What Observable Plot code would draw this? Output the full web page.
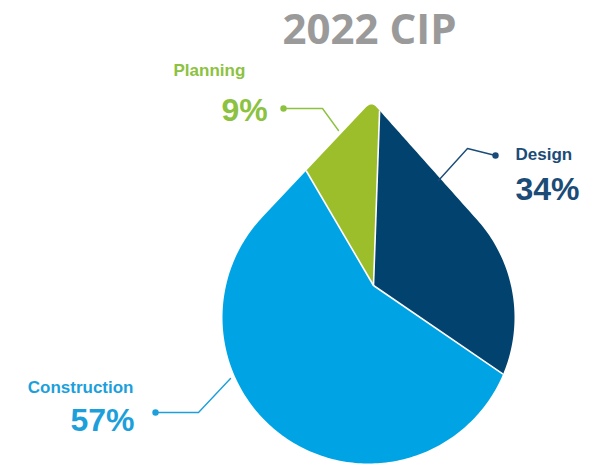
<!DOCTYPE html>
<html><head><meta charset="utf-8">
<script src="https://cdn.jsdelivr.net/npm/d3@7"></script>
<script src="https://cdn.jsdelivr.net/npm/@observablehq/plot@0.6"></script>
<style>html,body{margin:0;padding:0;background:#fff;} svg{display:block}</style>
</head><body><div id="chart"></div>
<script>
// ---- data ----
const categories = ["Design", "Construction", "Planning"];
const shares = [34, 57, 9];
const shareLabels = ["34%", "57%", "9%"];
const title = "2022 CIP";

// ---- styles ----
const sliceColors = ["#02426E", "#00A4E4", "#9CBE2B"];
const textColors = ["#1B4B77", "#1C9FDB", "#8CC23F"];

// ---- layout (pixels) ----
const W = 592, H = 466;
const center = [373, 285];          // where the slices meet
const bulb = {cx: 368, cy: 317, r: 146};
const tip = [371, 101];
const startDeg = 2;
const labelLayout = {
  Design:       {nameX: 515, nameY: 159, pctX: 515, pctY: 199, anchor: "start", pctAnchor: "start",
                 leader: [[495, 155], [467, 148], [438, 180]]},
  Construction: {nameX: 133, nameY: 392, pctX: 134, pctY: 430, anchor: "end", pctAnchor: "end",
                 leader: [[155, 412], [198, 412], [230, 378]]},
  Planning:     {nameX: 173, nameY: 75, pctX: 221, pctY: 120, anchor: "start", pctAnchor: "start",
                 leader: [[283, 108], [322, 108], [338, 130]]}
};

// ---- drop outline ----
function buildOutline() {
  const [tx, ty] = tip;
  const dx = tx - bulb.cx, dy = ty - bulb.cy, d = Math.hypot(dx, dy);
  const phi = Math.atan2(dy, dx), alpha = Math.acos(bulb.r / d);
  const aR = phi + alpha, aL = phi - alpha + 2 * Math.PI;
  const pR = [bulb.cx + bulb.r * Math.cos(aR), bulb.cy + bulb.r * Math.sin(aR)];
  const pL = [bulb.cx + bulb.r * Math.cos(aL), bulb.cy + bulb.r * Math.sin(aL)];
  const unit = p => { const vx = p[0] - tx, vy = p[1] - ty, l = Math.hypot(vx, vy); return [vx / l, vy / l]; };
  const uL = unit(pL), uR = unit(pR), s = 8;
  const B = [tx + s * uL[0], ty + s * uL[1]], A = [tx + s * uR[0], ty + s * uR[1]];
  const pts = [];
  for (let i = 0; i <= 12; i++) { const t = i / 12, m = 1 - t;
    pts.push([m * m * B[0] + 2 * m * t * tx + t * t * A[0], m * m * B[1] + 2 * m * t * ty + t * t * A[1]]); }
  for (let i = 1; i <= 40; i++) { const t = i / 40; pts.push([A[0] + (pR[0] - A[0]) * t, A[1] + (pR[1] - A[1]) * t]); }
  for (let i = 1; i <= 240; i++) { const a = aR + (aL - aR) * i / 240; pts.push([bulb.cx + bulb.r * Math.cos(a), bulb.cy + bulb.r * Math.sin(a)]); }
  for (let i = 1; i < 40; i++) { const t = i / 40; pts.push([pL[0] + (B[0] - pL[0]) * t, pL[1] + (B[1] - pL[1]) * t]); }
  return pts;
}
const outline = buildOutline();

function ang(p) {
  let a = Math.atan2(p[0] - center[0], -(p[1] - center[1])) * 180 / Math.PI;
  while (a < startDeg) a += 360;
  while (a >= startDeg + 360) a -= 360;
  return a;
}
function hit(deg) {
  const r = deg * Math.PI / 180, ux = Math.sin(r), uy = -Math.cos(r);
  let best = null;
  for (let i = 0; i < outline.length; i++) {
    const p = outline[i], q = outline[(i + 1) % outline.length];
    const ex = q[0] - p[0], ey = q[1] - p[1];
    const den = ux * ey - uy * ex; if (Math.abs(den) < 1e-12) continue;
    const wx = p[0] - center[0], wy = p[1] - center[1];
    const t = (wx * ey - wy * ex) / den, u = (wx * uy - wy * ux) / den;
    if (t > 0 && u >= -1e-9 && u <= 1 + 1e-9 && (best === null || t < best)) best = t;
  }
  return [center[0] + best * ux, center[1] + best * uy];
}

// ---- slices from shares ----
const total = d3.sum(shares);
let acc = startDeg;
const sliceRows = [], boundaryAngles = [];
categories.forEach((c, i) => {
  const a0 = acc, a1 = acc + shares[i] / total * 360; acc = a1;
  boundaryAngles.push(a0);
  const inner = outline.map(p => [p, ang(p)]).filter(d => d[1] > a0 && d[1] < a1)
    .sort((a, b) => a[1] - b[1]).map(d => d[0]);
  const pts = [center, hit(a0), ...inner, hit(a1), center];
  pts.forEach((p, j) => sliceRows.push({category: c, x: p[0], y: p[1], k: j}));
});
const separators = boundaryAngles.map(a => { const h = hit(a); return {x1: center[0], y1: center[1], x2: h[0], y2: h[1]}; });

// ---- labels ----
const leaderRows = [], dotRows = [];
categories.forEach((c, i) => {
  const L = labelLayout[c];
  L.leader.forEach((p, j) => leaderRows.push({category: c, x: p[0], y: p[1], k: j}));
  dotRows.push({category: c, x: L.leader[0][0], y: L.leader[0][1]});
});

const font = "'Liberation Sans', Arial, sans-serif";
const textMarks = [];
categories.forEach((c, i) => {
  const L = labelLayout[c];
  textMarks.push(Plot.text([c], {x: () => L.nameX, y: () => L.nameY, text: d => d, textAnchor: L.anchor,
    lineAnchor: "bottom", fill: textColors[i], fontSize: 17, fontWeight: "bold", fontFamily: font}));
  textMarks.push(Plot.text([shareLabels[i]], {x: () => L.pctX, y: () => L.pctY, text: d => d, textAnchor: L.pctAnchor,
    lineAnchor: "bottom", fill: textColors[i], fontSize: 32, fontWeight: "bold", fontFamily: font}));
});

const chart = Plot.plot({
  width: W, height: H, margin: 0,
  x: {domain: [0, W], range: [0, W], axis: null},
  y: {domain: [0, H], range: [0, H], axis: null},
  color: {domain: categories, range: sliceColors},
  style: {background: "#fff"},
  marks: [
    Plot.line(sliceRows, {x: "x", y: "y", z: "category", fill: "category", stroke: "none", curve: "linear"}),
    Plot.link(separators, {x1: "x1", y1: "y1", x2: "x2", y2: "y2", stroke: "#fff", strokeWidth: 1.6}),
    Plot.line(leaderRows, {x: "x", y: "y", z: "category", stroke: d => textColors[categories.indexOf(d.category)], strokeWidth: 1.4}),
    Plot.dot(dotRows, {x: "x", y: "y", r: 3.2, fill: d => textColors[categories.indexOf(d.category)], stroke: "none"}),
    ...textMarks,
    Plot.text([title], {x: () => 369, y: () => 43, text: d => d, textAnchor: "middle", lineAnchor: "bottom",
      fill: "#9A9A9A", fontSize: 42, fontWeight: "bold", fontFamily: "'Open Sans', sans-serif"})
  ]
});
document.getElementById("chart").appendChild(chart);
</script>
</body></html>
